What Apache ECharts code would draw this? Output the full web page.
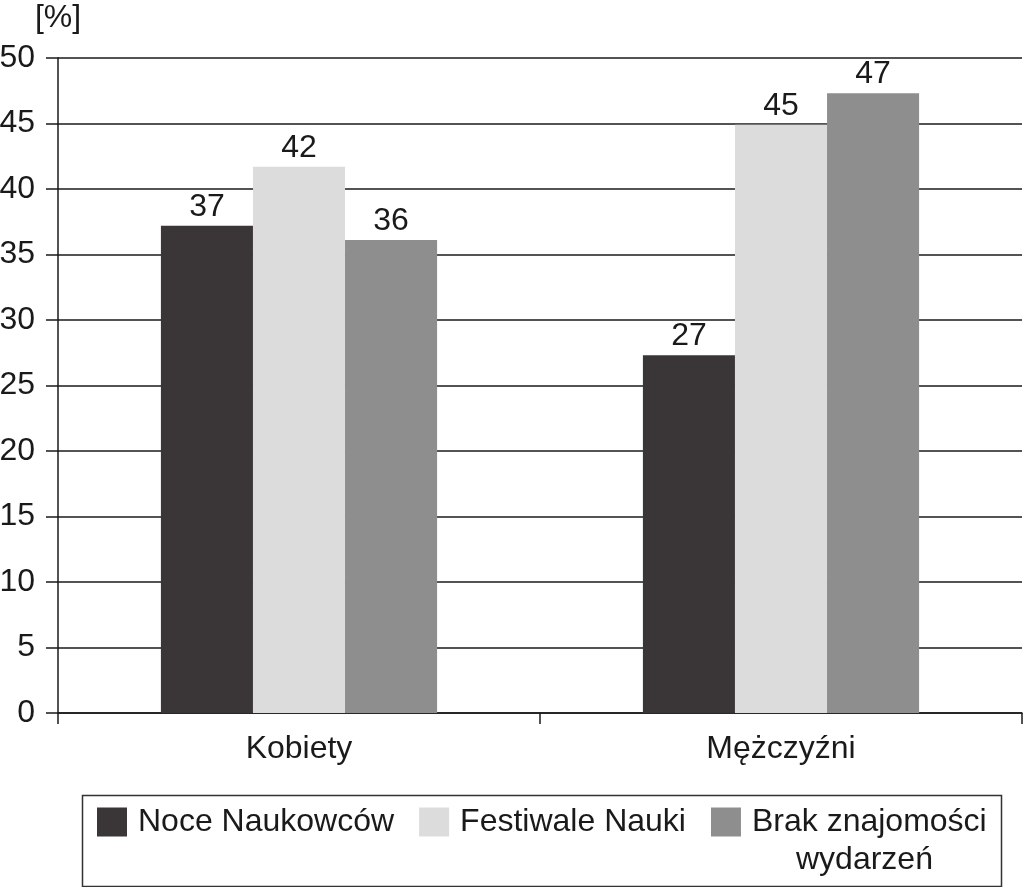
<!DOCTYPE html>
<html><head><meta charset="utf-8">
<script src="https://cdn.jsdelivr.net/npm/echarts@6/dist/echarts.min.js"></script>
<style>html,body{margin:0;padding:0;background:#fff}#c{width:1024px;height:887px}</style>
</head><body><div id="c"></div>
<script>
const categories = ['Kobiety', 'Mężczyźni'];
const seriesNames = ['Noce Naukowców', 'Festiwale Nauki', 'Brak znajomości wydarzeń'];
const noceNaukowcow = [37.2, 27.3];
const festiwaleNauki = [41.7, 44.9];
const brakZnajomosci = [36.1, 47.3];
const yTicks = [0, 5, 10, 15, 20, 25, 30, 35, 40, 45, 50];

const colors = ['#3a3536', '#dcdcdc', '#8f8e8f'];
const FONT = '"Liberation Sans", Arial, sans-serif';
const FS = 32;
const values = [noceNaukowcow, festiwaleNauki, brakZnajomosci];

const chart = echarts.init(document.getElementById('c'), null, {renderer: 'canvas'});
chart.setOption({
  animation: false,
  textStyle: {fontFamily: FONT},
  grid: {left: 58, right: 2, top: 58, bottom: 174, containLabel: false, outerBoundsMode: 'none'},
  xAxis: {
    type: 'category', data: categories,
    axisLine: {show: true, lineStyle: {color: '#1a1a1a', width: 1.5}},
    axisTick: {show: true, length: 11, lineStyle: {color: '#1a1a1a', width: 1.5}},
    axisLabel: {fontSize: FS, color: '#1a1a1a', margin: 20, fontFamily: FONT}
  },
  yAxis: {
    type: 'value', min: yTicks[0], max: yTicks[yTicks.length - 1], interval: 5,
    name: '[%]', nameLocation: 'end', nameGap: 24,
    nameTextStyle: {fontSize: FS, color: '#1a1a1a', fontFamily: FONT, align: 'center'},
    axisLine: {show: true, lineStyle: {color: '#1a1a1a', width: 1.5}},
    axisTick: {show: true, length: 12, lineStyle: {color: '#1a1a1a', width: 1.5}},
    axisLabel: {fontSize: FS, color: '#1a1a1a', margin: 23, fontFamily: FONT},
    splitLine: {show: true, lineStyle: {color: '#1a1a1a', width: 1.5}}
  },
  legend: {
    left: 97, top: 768, padding: 0, itemGap: 25,
    itemWidth: 30, itemHeight: 29,
    icon: 'rect',
    data: seriesNames,
    formatter: name => name === seriesNames[2]
      ? '{e| }\n{a|Brak znajomości}\n{b|wydarzeń}'
      : '{a|' + name + '}',
    textStyle: {
      fontSize: FS, color: '#1a1a1a', fontFamily: FONT, padding: [0, 0, 0, 6],
      rich: {
        a: {fontSize: FS, color: '#1a1a1a', fontFamily: FONT, lineHeight: 38},
        b: {fontSize: FS, color: '#1a1a1a', fontFamily: FONT, lineHeight: 38, padding: [0, 0, 0, 44]},
        e: {fontSize: FS, lineHeight: 38}
      }
    }
  },
  graphic: [{
    type: 'rect', left: 80, top: 793, silent: true,
    shape: {width: 919, height: 91},
    style: {fill: 'none', stroke: '#333', lineWidth: 1.5}
  }],
  series: seriesNames.map((n, i) => ({
    type: 'bar', name: n, data: values[i],
    barGap: '0%', barCategoryGap: '42.7%',
    itemStyle: {color: colors[i]},
    label: {show: true, position: 'top', distance: 3, fontSize: FS, color: '#1a1a1a', fontFamily: FONT,
      formatter: p => Math.round(p.value)}
  }))
});
</script></body></html>
